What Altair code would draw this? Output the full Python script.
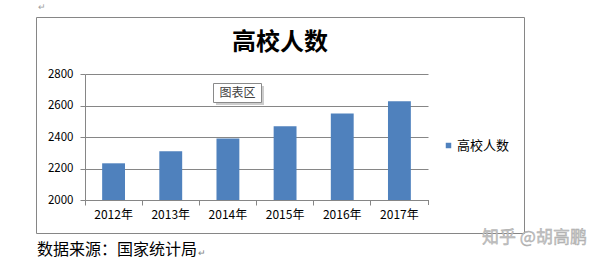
import altair as alt
import pandas as pd

# Data
years = ["2012年", "2013年", "2014年", "2015年", "2016年", "2017年"]
students = [2233, 2310, 2391, 2468, 2549, 2627]
series_name = "高校人数"
y_ticks = [2000, 2200, 2400, 2600, 2800]

chart_title = "高校人数"
source_note = "数据来源：国家统计局"
hover_label = "图表区"
watermark = "知乎 @胡高鹏"
para_mark = "↵"

CJK = "Noto Sans CJK SC"
BLUE = "#4F81BD"
GRID = "#868686"

W, H = 343, 126  # plot area

df = pd.DataFrame({"year": years, "students": students, "series": [series_name] * len(years)})
one = pd.DataFrame({"k": [0]})

bars = alt.Chart(df).mark_bar(width=alt.RelativeBandSize(0.4)).encode(
    x=alt.X(
        "year:N",
        sort=years,
        scale=alt.Scale(paddingInner=0, paddingOuter=0),
        axis=alt.Axis(
            title=None, labelAngle=0, bandPosition=0, grid=False,
            domainColor=GRID, tickColor=GRID, tickSize=5,
            labelFont=CJK, labelFontSize=12, labelColor="#000000",
            labelPadding=4,
        ),
    ),
    y=alt.Y(
        "students:Q",
        scale=alt.Scale(domain=[2000, 2800], nice=False, zero=False),
        axis=alt.Axis(
            title=None, values=y_ticks, format="d", grid=True, gridColor=GRID,
            domainColor=GRID, tickColor=GRID, tickSize=5,
            labelFont=CJK, labelFontSize=11.5, labelColor="#000000",
            labelPadding=7,
        ),
    ),
    y2=alt.datum(y_ticks[0]),
    color=alt.Color(
        "series:N",
        scale=alt.Scale(domain=[series_name], range=[BLUE]),
        legend=alt.Legend(
            title=None, orient="none", legendX=357, legendY=65, padding=0,
            symbolType="square", symbolSize=30, symbolStrokeWidth=0,
            labelFont=CJK, labelFontSize=13, labelColor="#000000", labelOffset=2,
        ),
    ),
)

# closing tick at the right end of the category axis
end_tick = alt.Chart(one).mark_rule(color=GRID, strokeWidth=1).encode(
    x=alt.value(W + 0.5), y=alt.value(H), y2=alt.value(H + 5)
)

# chart-area frame
frame = alt.Chart(one).mark_rect(fill="#ffffff", fillOpacity=0, stroke=GRID, strokeWidth=1).encode(
    x=alt.value(-48.5), x2=alt.value(439.5), y=alt.value(-56.5), y2=alt.value(159.5)
)

title = alt.Chart(one).mark_text(
    text=chart_title, font=CJK, fontSize=24, fontWeight="bold", color="#000000",
    align="center", baseline="middle",
).encode(x=alt.value(195), y=alt.value(-31))

# hover label box with a soft shadow
shadow = alt.Chart(one).mark_rect(fill="#b8b8b8", opacity=0.7).encode(
    x=alt.value(131), x2=alt.value(179), y=alt.value(12), y2=alt.value(31)
)
box = alt.Chart(one).mark_rect(fill="#ffffff", stroke="#8a8a8a", strokeWidth=1).encode(
    x=alt.value(128.5), x2=alt.value(176.5), y=alt.value(9.5), y2=alt.value(28.5)
)
box_text = alt.Chart(one).mark_text(
    text=hover_label, font=CJK, fontSize=12, color="#404040",
    align="center", baseline="middle",
).encode(x=alt.value(152.5), y=alt.value(19))

source = alt.Chart(one).mark_text(
    text=source_note, font=CJK, fontSize=16, color="#000000",
    align="left", baseline="middle",
).encode(x=alt.value(-48), y=alt.value(176))

source_mark = alt.Chart(one).mark_text(
    text=para_mark, font=CJK, fontSize=9, color="#808080",
    align="left", baseline="middle",
).encode(x=alt.value(113), y=alt.value(179))

top_mark = alt.Chart(one).mark_text(
    text=para_mark, font=CJK, fontSize=9, color="#a0a0a0",
    align="left", baseline="middle",
).encode(x=alt.value(-47), y=alt.value(-67))

wm = alt.Chart(one).mark_text(
    text=watermark, font=CJK, fontSize=17, color="#c4c4c4",
    stroke="#a8a8a8", strokeWidth=0.4,
    align="left", baseline="middle",
).encode(x=alt.value(397), y=alt.value(164))

chart = alt.layer(
    frame, bars, end_tick, title, shadow, box, box_text, source, source_mark, top_mark, wm
).properties(
    width=W, height=H,
    autosize=alt.AutoSizeParams(type="none"),
    padding={"left": 85, "top": 74, "right": 611 - 85 - W, "bottom": 266 - 74 - H},
    background="#ffffff",
).configure_view(stroke=None)

chart.save("out.html", embed_options={"renderer": "svg", "actions": False})
